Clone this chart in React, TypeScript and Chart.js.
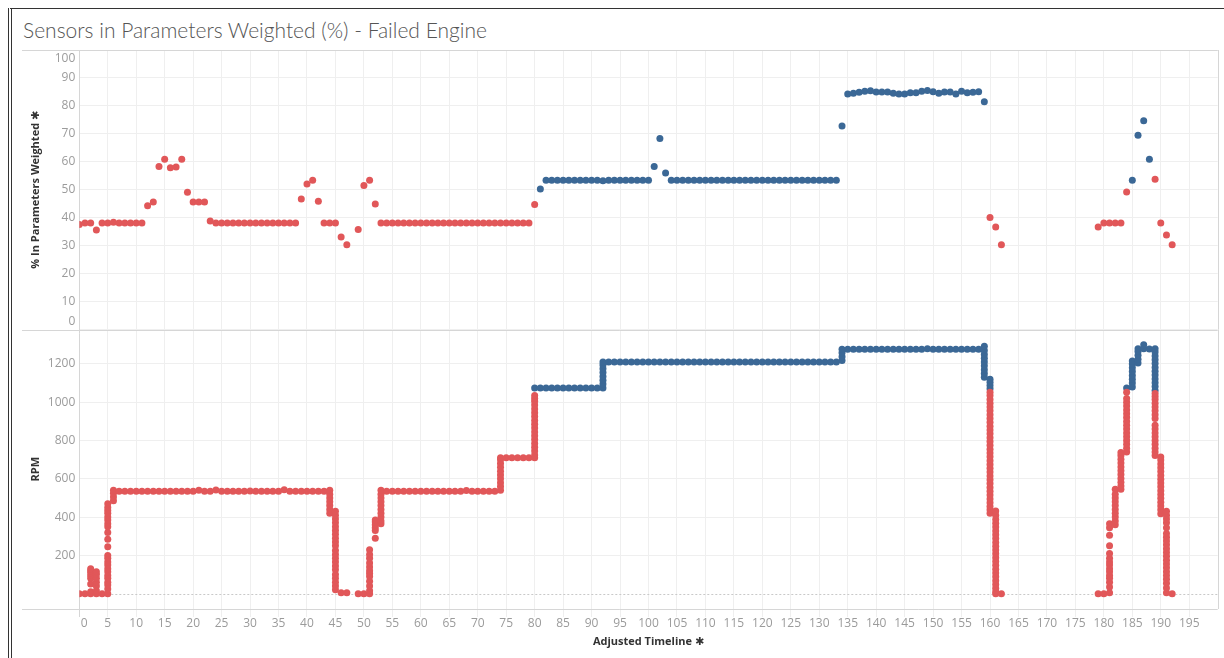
import React, { useEffect, useRef } from "react";
import { Chart, registerables } from "chart.js";

Chart.register(...registerables);

// ---------- top pane: % In Parameters Weighted ----------
const pctRedTimeline = [
  0, 1, 2, 3, 4, 5, 6, 7, 8, 9, 10, 11, 12, 13, 14, 15, 16, 17, 18, 19, 20, 21, 22, 23,
  24, 25, 26, 27, 28, 29, 30, 31, 32, 33, 34, 35, 36, 37, 38,
  39, 40, 41, 42, 43, 44, 45, 46, 47,
  49, 50, 51, 52,
  53, 54, 55, 56, 57, 58, 59, 60, 61, 62, 63, 64, 65, 66, 67, 68, 69, 70, 71, 72, 73, 74, 75, 76, 77, 78, 79,
  80,
  160, 161, 162,
  179, 180, 181, 182, 183, 184,
  189, 190, 191, 192,
];
const pctRedValues = [
  37.6, 38.1, 38.1, 35.6, 38.1, 38.1, 38.4, 38.1, 38.1, 38.1, 38.1, 38.1,
  44.3, 45.6, 58.3, 60.9, 57.9, 58.1, 60.9, 49.1, 45.6, 45.6, 45.6, 38.8,
  38.1, 38.1, 38.1, 38.1, 38.1, 38.1, 38.1, 38.1, 38.1, 38.1, 38.1, 38.1, 38.1, 38.1, 38.1,
  46.7, 52.1, 53.4, 45.9, 38.1, 38.1, 38.1, 33.1, 30.3,
  35.8, 51.5, 53.4, 44.9,
  38.1, 38.1, 38.1, 38.1, 38.1, 38.1, 38.1, 38.1, 38.1, 38.1, 38.1, 38.1, 38.1, 38.1, 38.1, 38.1, 38.1, 38.1, 38.1, 38.1, 38.1, 38.1, 38.1, 38.1, 38.1, 38.1, 38.1,
  44.7,
  40.1, 36.7, 30.3,
  36.7, 38.1, 38.1, 38.1, 38.1, 49.2,
  53.8, 38.1, 33.8, 30.3,
];
const pctBlueTimeline = [
  81, 82, 83, 84, 85, 86, 87, 88, 89, 90, 91, 92, 93, 94, 95, 96, 97, 98, 99, 100,
  101, 102, 103,
  104, 105, 106, 107, 108, 109, 110, 111, 112, 113, 114, 115, 116, 117, 118, 119, 120,
  121, 122, 123, 124, 125, 126, 127, 128, 129, 130, 131, 132, 133,
  134,
  135, 136, 137, 138, 139, 140, 141, 142, 143, 144, 145, 146, 147, 148, 149, 150, 151, 152, 153, 154, 155, 156, 157, 158,
  159,
  185, 186, 187, 188,
];
const pctBlueValues = [
  50.3, 53.4, 53.4, 53.4, 53.4, 53.4, 53.4, 53.4, 53.4, 53.4, 53.4, 53.2, 53.4, 53.4, 53.4, 53.4, 53.4, 53.4, 53.4, 53.4,
  58.3, 68.3, 56.0,
  53.4, 53.4, 53.4, 53.4, 53.4, 53.4, 53.4, 53.4, 53.4, 53.4, 53.4, 53.4, 53.4, 53.4, 53.4, 53.4, 53.4,
  53.4, 53.4, 53.4, 53.4, 53.4, 53.4, 53.4, 53.4, 53.4, 53.4, 53.4, 53.4, 53.4,
  72.8,
  84.3, 84.5, 84.9, 85.2, 85.4, 85.0, 85.0, 85.0, 84.5, 84.3, 84.3, 84.7, 84.7, 85.2, 85.5, 85.1, 84.5, 85.0, 85.0, 84.3, 85.2, 84.7, 84.9, 85.1,
  81.5,
  53.4, 69.5, 74.7, 60.9,
];

// ---------- bottom pane: RPM (several readings per timeline step) ----------
const rpmRedTimeline = [
  0, 1, 2, 3, 4, 5, 6,
  7, 8, 9, 10, 11, 12, 13, 14, 15, 16, 17, 18, 19, 20, 21, 22, 23, 24, 25, 26, 27, 28, 29, 30,
  31, 32, 33, 34, 35, 36, 37, 38, 39, 40, 41, 42, 43,
  44, 45, 46, 47, 49, 50, 51, 52, 53,
  54, 55, 56, 57, 58, 59, 60, 61, 62, 63, 64, 65, 66, 67, 68, 69, 70, 71, 72, 73,
  74, 75, 76, 77, 78, 79, 80,
  160, 161, 162,
  179, 180, 181, 182, 183, 184,
  189, 190, 191, 192,
];
const rpmRedReadings: (number | number[])[] = [
  0, 0,
  [0, 10, 50, 80, 95, 110, 120, 130],
  [0, 15, 40, 60, 80, 100, 115],
  0,
  [0, 25, 45, 60, 80, 95, 115, 130, 150, 165, 185, 200, 245, 285, 320, 350, 365, 385, 400, 420, 435, 450, 470],
  [485, 505, 525, 540],
  535, 535, 535, 535, 535, 535, 535, 535, 535, 535, 535, 535, 535, 535, 540, 535, 535, 541, 535, 535, 535, 535, 535, 537,
  535, 535, 535, 535, 535, 543, 535, 535, 535, 535, 535, 535, 535,
  [420, 440, 460, 480, 500, 520, 540],
  [20, 40, 60, 80, 100, 125, 145, 165, 185, 205, 225, 250, 270, 290, 310, 330, 350, 370, 390, 410, 430],
  5, 5, 0, 0,
  [0, 15, 40, 65, 90, 105, 120, 140, 160, 185, 205, 230],
  [290, 330, 345, 360, 375, 385],
  [365, 380, 400, 420, 440, 460, 480, 500, 520, 540],
  535, 535, 535, 535, 535, 535, 535, 535, 535, 535, 535, 535, 535, 535, 539, 535, 535, 535, 535, 535,
  [540, 560, 580, 600, 620, 640, 660, 680, 700, 710],
  710, 710, 710, 710, 710,
  [710, 725, 745, 765, 785, 805, 825, 845, 865, 885, 905, 925, 945, 965, 985, 1005, 1020, 1035],
  [420, 438, 455, 475, 495, 515, 535, 555, 575, 595, 615, 635, 655, 675, 695, 715, 735, 755, 775, 795, 815, 835, 855, 875, 895, 915, 935, 955, 975, 995, 1015, 1035, 1052],
  [0, 10, 28, 48, 68, 88, 108, 128, 148, 168, 188, 208, 228, 248, 268, 288, 308, 328, 348, 368, 388, 410, 432],
  0,
  0, 0,
  [5, 35, 60, 80, 95, 115, 130, 150, 165, 185, 210, 250, 305, 345, 365],
  [360, 380, 400, 420, 440, 460, 480, 500, 520, 545],
  [545, 562, 582, 602, 622, 642, 662, 682, 702, 722, 738],
  [740, 760, 780, 800, 820, 840, 860, 880, 900, 920, 940, 960, 980, 1000, 1020, 1052],
  [722, 740, 760, 780, 800, 820, 840, 860, 880, 915, 935, 955, 975, 995, 1015, 1030, 1046],
  [418, 438, 458, 478, 498, 518, 538, 558, 578, 598, 618, 638, 658, 678, 698, 714],
  [5, 30, 55, 75, 95, 115, 135, 155, 175, 195, 215, 235, 255, 275, 295, 315, 345, 370, 390, 410, 430],
  0,
];
const rpmBlueTimeline = [
  80, 81, 82, 83, 84, 85, 86, 87, 88, 89, 90, 91,
  92,
  93, 94, 95, 96, 97, 98, 99, 100, 101, 102, 103, 104, 105, 106, 107, 108, 109, 110, 111, 112, 113,
  114, 115, 116, 117, 118, 119, 120, 121, 122, 123, 124, 125, 126, 127, 128, 129, 130, 131, 132, 133,
  134,
  135, 136, 137, 138, 139, 140, 141, 142, 143, 144, 145, 146, 147, 148, 149, 150, 151, 152, 153, 154, 155, 156, 157, 158,
  159, 160,
  184, 185, 186, 187, 188, 189,
];
const rpmBlueReadings: (number | number[])[] = [
  1075, 1075, 1075, 1075, 1075, 1075, 1075, 1075, 1075, 1075, 1075, 1075,
  [1075, 1095, 1115, 1135, 1155, 1175, 1195, 1210],
  1210, 1210, 1210, 1210, 1210, 1210, 1210, 1210, 1210, 1210, 1210, 1210, 1210, 1210, 1210, 1210, 1210, 1210, 1210, 1210, 1210,
  1210, 1210, 1210, 1210, 1210, 1210, 1210, 1210, 1210, 1210, 1210, 1210, 1210, 1210, 1210, 1210, 1210, 1210, 1210, 1210,
  [1218, 1238, 1258, 1277],
  1277, 1277, 1277, 1277, 1277, 1277, 1277, 1277, 1277, 1277, 1277, 1277, 1277, 1277, 1280, 1277, 1277, 1277, 1277, 1277, 1277, 1277, 1277, 1277,
  [1130, 1150, 1170, 1190, 1210, 1230, 1250, 1270, 1292],
  [1070, 1088, 1105, 1120],
  1075,
  [1080, 1100, 1120, 1140, 1160, 1180, 1200, 1215],
  [1205, 1225, 1245, 1265, 1280],
  [1280, 1300],
  1278,
  [1062, 1082, 1102, 1122, 1142, 1162, 1182, 1202, 1222, 1242, 1262, 1280],
];

const titleText = "Sensors in Parameters Weighted (%) - Failed Engine";
const xTitle = "Adjusted Timeline \u2731";
const yTopTitle = "% In Parameters Weighted \u2731";
const yBotTitle = "RPM";

const RED = "#e15759";
const BLUE = "#3b6896";
const GRID = "#efefef";
const RULE = "#d6d6d6";
const TICK = "#9b9b9b";
const FONT = "'Open Sans', 'DejaVu Sans', sans-serif";
const HIDDEN = "rgba(0,0,0,0)";

function toPoints(timeline: number[], values: (number | number[])[]) {
  const out: { x: number; y: number }[] = [];
  timeline.forEach((t, i) => {
    const v = values[i];
    (Array.isArray(v) ? v : [v]).forEach((y) => out.push({ x: t, y }));
  });
  return out;
}

const panelPlugin = {
  id: "panelFrame",
  beforeDatasetsDraw(chart: any) {
    const { ctx, chartArea: a } = chart;
    const top = chart.scales.yTop;
    const bot = chart.scales.yBot;
    const c = (v: number) => Math.round(v) + 0.5;
    ctx.save();
    ctx.lineWidth = 1;
    ctx.strokeStyle = "#c9c9c9";
    ctx.setLineDash([2, 2]);
    const z = c(bot.getPixelForValue(0));
    ctx.beginPath();
    ctx.moveTo(a.left, z);
    ctx.lineTo(a.right, z);
    ctx.stroke();
    ctx.setLineDash([]);
    ctx.strokeStyle = RULE;
    for (const y of [a.top, top.bottom, a.bottom]) {
      ctx.beginPath();
      ctx.moveTo(22, c(y));
      ctx.lineTo(a.right, c(y));
      ctx.stroke();
    }
    ctx.beginPath();
    ctx.moveTo(c(a.left), a.top);
    ctx.lineTo(c(a.left), a.bottom + 8);
    ctx.moveTo(c(a.right), a.top);
    ctx.lineTo(c(a.right), a.bottom);
    ctx.stroke();
    ctx.restore();
  },
  afterDraw(chart: any) {
    const { ctx, chartArea: a } = chart;
    const top = chart.scales.yTop;
    const xs = chart.scales.x;
    ctx.save();
    ctx.font = `12px ${FONT}`;
    ctx.fillStyle = TICK;
    ctx.textAlign = "right";
    ctx.textBaseline = "middle";
    // edge labels kept inside the pane, as the original does
    ctx.fillText("100", a.left - 4, top.top + 9);
    ctx.fillText("0", a.left - 4, top.bottom - 8);
    let yLab = a.bottom + 13;
    try {
      const items = xs.getLabelItems();
      if (items && items.length > 1) {
        const it = items[1];
        const tr = it.options.translation;
        ctx.textBaseline = it.options.textBaseline;
        yLab = tr[1] + (it.textOffset || 0);
      }
    } catch (e) {
      ctx.textBaseline = "middle";
    }
    ctx.textAlign = "center";
    ctx.fillText("0", xs.getPixelForValue(0) + 5, yLab);
    ctx.restore();
  },
};

export default function App() {
  const ref = useRef<HTMLCanvasElement>(null);

  useEffect(() => {
    if (!ref.current) return;
    Chart.defaults.font.family = FONT;
    const pointStyle = { pointRadius: 3.5, pointHoverRadius: 3.5, pointBorderWidth: 0, showLine: false };
    const plain = (v: any) => String(v);
    const chart = new Chart(ref.current, {
      type: "scatter",
      data: {
        datasets: [
          { label: "pctRed", data: toPoints(pctRedTimeline, pctRedValues), xAxisID: "x", yAxisID: "yTop", backgroundColor: RED, borderColor: RED, ...pointStyle },
          { label: "pctBlue", data: toPoints(pctBlueTimeline, pctBlueValues), xAxisID: "x", yAxisID: "yTop", backgroundColor: BLUE, borderColor: BLUE, ...pointStyle },
          { label: "rpmRed", data: toPoints(rpmRedTimeline, rpmRedReadings), xAxisID: "x", yAxisID: "yBot", backgroundColor: RED, borderColor: RED, ...pointStyle },
          { label: "rpmBlue", data: toPoints(rpmBlueTimeline, rpmBlueReadings), xAxisID: "x", yAxisID: "yBot", backgroundColor: BLUE, borderColor: BLUE, ...pointStyle },
        ],
      },
      options: {
        responsive: false,
        animation: false,
        events: [],
        layout: { padding: { left: 22, right: 6.3, top: 50, bottom: 7 } },
        plugins: { legend: { display: false }, tooltip: { enabled: false } },
        scales: {
          x: {
            type: "linear",
            position: "bottom",
            min: 0,
            max: 200,
            afterBuildTicks: (s: any) => {
              s.ticks = s.ticks.filter((t: any) => t.value < 200);
            },
            ticks: {
              stepSize: 5,
              autoSkip: false,
              maxRotation: 0,
              color: (c: any) => (c.tick && c.tick.value === 0 ? HIDDEN : TICK),
              font: { size: 12 },
              padding: -1,
              callback: plain,
            },
            grid: { color: GRID, tickColor: GRID, tickLength: 8 },
            border: { display: false },
            title: { display: true, text: xTitle, color: "#333", font: { size: 11, weight: "bold" }, padding: { top: 0, bottom: 3 } },
            afterFit: (s: any) => {
              s.height = 42;
            },
          },
          yTop: {
            type: "linear",
            position: "left",
            stack: "panes",
            stackWeight: 1,
            weight: 1,
            min: 0,
            max: 100,
            ticks: {
              stepSize: 10,
              autoSkip: false,
              callback: plain,
              color: (c: any) => (c.tick && (c.tick.value === 0 || c.tick.value === 100) ? HIDDEN : TICK),
              font: { size: 12 },
              padding: 4,
            },
            grid: { color: GRID, drawTicks: false },
            border: { display: false },
            title: { display: true, text: yTopTitle, color: "#333", font: { size: 11, weight: "bold" }, padding: { top: 7, bottom: 0 } },
            afterFit: (s: any) => {
              s.width = 57.3;
            },
          },
          yBot: {
            type: "linear",
            position: "left",
            stack: "panes",
            stackWeight: 1,
            weight: 0,
            min: -80,
            max: 1380,
            afterBuildTicks: (s: any) => {
              s.ticks = s.ticks.filter((t: any) => t.value >= 0 && t.value % 200 === 0);
            },
            ticks: { stepSize: 200, autoSkip: false, callback: plain, color: TICK, font: { size: 12 }, padding: 4 },
            grid: { color: (c: any) => (c.tick && c.tick.value === 0 ? HIDDEN : GRID), drawTicks: false },
            border: { display: false },
            title: { display: true, text: yBotTitle, color: "#333", font: { size: 11, weight: "bold" }, padding: { top: 7, bottom: 0 } },
            afterFit: (s: any) => {
              s.width = 57.3;
            },
          },
        },
      } as any,
      plugins: [panelPlugin],
    });
    return () => chart.destroy();
  }, []);

  return (
    <div style={{ position: "absolute", left: 0, top: 0, width: 1224, height: 658, background: "#fff", overflow: "hidden" }}>
      <div
        style={{
          position: "absolute",
          left: 8,
          top: 8,
          width: 1230,
          height: 670,
          borderLeft: "4px double #333",
          borderTop: "1px solid #333",
          boxSizing: "border-box",
        }}
      />
      <div
        style={{
          position: "absolute",
          left: 23,
          top: 17,
          font: "300 21px Lato, 'Open Sans', sans-serif",
          lineHeight: "25px",
          color: "#555",
          whiteSpace: "nowrap",
        }}
      >
        {titleText}
      </div>
      <canvas ref={ref} width={1224} height={658} style={{ position: "absolute", left: 0, top: 0, width: 1224, height: 658 }} />
    </div>
  );
}
